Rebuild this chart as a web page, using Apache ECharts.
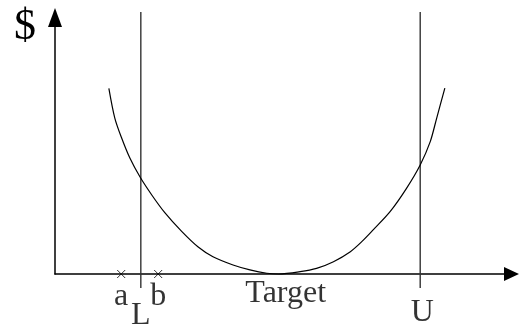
<!DOCTYPE html>
<html>
<head>
<meta charset="utf-8">
<script src="https://cdn.jsdelivr.net/npm/echarts@6/dist/echarts.min.js"></script>
<style>
html,body{margin:0;padding:0;background:#fff;}
#chart{width:519px;height:329px;}
</style>
</head>
<body>
<div id="chart"></div>
<script>
// Cost curve (x in arbitrary units 0..100, y = cost in arbitrary units 0..100)
const curveX = [11.8, 13.1, 14.6, 16.4, 18.6, 21.2, 24.1, 27.8, 31.3, 34.6, 39.0, 42.7, 46.4, 49.0, 53.7, 57.3, 61.0, 64.7, 67.2, 69.7, 73.4, 77.0, 80.0, 82.2, 83.6, 85.4];
const curveY = [72.4, 60.8, 53.0, 45.2, 37.9, 30.8, 23.8, 16.5, 10.6, 6.7, 3.5, 1.6, 0.3, 0, 0.9, 2.2, 4.8, 8.7, 12.6, 17.2, 24.3, 33.4, 42.5, 51.6, 60.7, 72.5];
// Specification limits
const limitNames = ['L', 'U'];
const limitX = [18.8, 80];
const limitSpan = [-5.5, 102.1];
// Marked points on the axis
const markNames = ['a', 'b'];
const markX = [14.5, 22.6];
const targetName = 'Target';
const targetX = 49;
const yAxisName = '$';

const serif = "'Liberation Serif','Times New Roman',serif";
const chart = echarts.init(document.getElementById('chart'));

function textSeries(x, text, offset) {
  return {
    type: 'scatter',
    data: [[x, 0]],
    symbolSize: 1,
    clip: false,
    itemStyle: { color: 'rgba(0,0,0,0)' },
    label: {
      show: true,
      position: 'inside',
      offset: offset,
      formatter: text,
      color: '#000',
      fontFamily: serif,
      fontSize: 32
    },
    z: 4
  };
}

const series = [];
series.push({
  type: 'line',
  data: curveX.map((x, i) => [x, curveY[i]]),
  smooth: 0.3,
  showSymbol: false,
  clip: false,
  lineStyle: { color: '#000', width: 1.2 },
  z: 3
});
limitX.forEach((x) => {
  series.push({
    type: 'line',
    data: [[x, limitSpan[0]], [x, limitSpan[1]]],
    showSymbol: false,
    clip: false,
    lineStyle: { color: '#333', width: 1.4 },
    z: 2
  });
});
series.push({
  type: 'scatter',
  data: markX.map(x => [x, 0]),
  symbol: 'path://M0,0L10,10M10,0L0,10',
  symbolSize: 8,
  clip: false,
  itemStyle: { color: 'none', borderColor: '#000', borderWidth: 1 },
  z: 4
});
series.push(textSeries(markX[0], markNames[0], [0, 23]));
series.push(textSeries(markX[1], markNames[1], [0, 23]));
series.push(textSeries(limitX[0], limitNames[0], [0, 42]));
series.push(textSeries(limitX[1], limitNames[1], [2, 39]));
series.push(textSeries(targetX, targetName, [7, 20]));

chart.setOption({
  animation: false,
  backgroundColor: '#fff',
  title: {
    text: yAxisName,
    left: 9,
    top: 0,
    textStyle: { fontFamily: serif, fontSize: 44, fontWeight: 'normal', color: '#000' }
  },
  grid: { left: 55, right: 7.5, top: 17.5, bottom: 55 },
  xAxis: {
    type: 'value', min: 0, max: 100,
    axisLine: { show: true, symbol: ['none', 'triangle'], symbolSize: [14, 15], lineStyle: { color: '#000', width: 1.5 } },
    axisTick: { show: false }, axisLabel: { show: false }, splitLine: { show: false }
  },
  yAxis: {
    type: 'value', min: 0, max: 100,
    axisLine: { show: true, symbol: ['none', 'triangle'], symbolSize: [14, 19], lineStyle: { color: '#000', width: 1.5 } },
    axisTick: { show: false }, axisLabel: { show: false }, splitLine: { show: false }
  },
  series: series
});
</script>
</body>
</html>
